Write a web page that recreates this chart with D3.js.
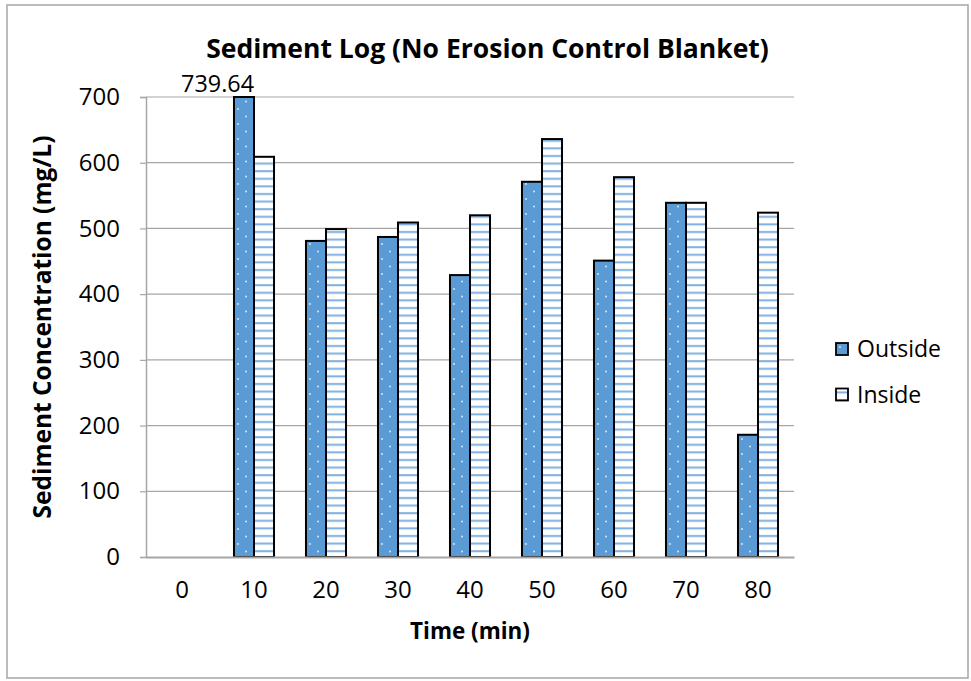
<!DOCTYPE html>
<html>
<head>
<meta charset="utf-8">
<script src="https://cdn.jsdelivr.net/npm/d3@7"></script>
<style>
  html, body { margin: 0; padding: 0; background: #fff; }
  svg text { font-family: "Open Sans", "Noto Sans", sans-serif; fill: #000; }
</style>
</head>
<body>
<svg id="chart" width="971" height="681"></svg>
<script>
// ---- data ----
const categories = ["0", "10", "20", "30", "40", "50", "60", "70", "80"];
const outsideValues = [0, 739.64, 481, 487, 429, 571, 451, 539, 186];
const insideValues = [0, 609, 499, 509, 520, 636, 578, 539, 524];
const seriesNames = ["Outside", "Inside"];
const yTicks = [0, 100, 200, 300, 400, 500, 600, 700];
const titleText = "Sediment Log (No Erosion Control Blanket)";
const xTitleText = "Time (min)";
const yTitleText = "Sediment Concentration (mg/L)";

const svg = d3.select("#chart");
const plot = { left: 146, right: 794, top: 97, bottom: 557 };

// helper: choose font-size so text spans target width
function fit(sel, target) {
  const node = sel.node();
  const fs = parseFloat(sel.style("font-size"));
  const len = node.getComputedTextLength();
  sel.style("font-size", (fs * target / len).toFixed(2) + "px");
}

// patterns
const defs = svg.append("defs");
const pDots = defs.append("pattern").attr("id", "dots")
  .attr("patternUnits", "userSpaceOnUse").attr("width", 16).attr("height", 15);
pDots.append("rect").attr("width", 16).attr("height", 15).attr("fill", "#5B9BD5");
pDots.append("circle").attr("cx", 4).attr("cy", 4).attr("r", 0.9).attr("fill", "#e6f0fa");
pDots.append("circle").attr("cx", 12).attr("cy", 11.5).attr("r", 0.9).attr("fill", "#e6f0fa");

const pLines = defs.append("pattern").attr("id", "hlines")
  .attr("patternUnits", "userSpaceOnUse").attr("width", 8).attr("height", 7.6);
pLines.append("rect").attr("width", 8).attr("height", 7.6).attr("fill", "#ffffff");
pLines.append("rect").attr("y", 3).attr("width", 8).attr("height", 2).attr("fill", "#7fb0e0");

const fills = { Outside: "url(#dots)", Inside: "url(#hlines)" };

// frame
svg.append("rect").attr("x", 7).attr("y", 5).attr("width", 961).attr("height", 673)
  .attr("fill", "#fff").attr("stroke", "#a6a6a6").attr("stroke-width", 1.5);

// scales
const x0 = d3.scaleBand().domain(categories).range([plot.left, plot.right])
  .paddingInner(0.444).paddingOuter(0.222);
const x1 = d3.scaleBand().domain(seriesNames).range([0, x0.bandwidth()]);
const y = d3.scaleLinear().domain([0, 700]).range([plot.bottom, plot.top]).clamp(true);

// gridlines
svg.append("g").selectAll("line").data(yTicks.filter(d => d > 0)).join("line")
  .attr("x1", plot.left).attr("x2", plot.right)
  .attr("y1", d => y(d)).attr("y2", d => y(d))
  .attr("stroke", "#a6a6a6").attr("stroke-width", 1.2);

// y axis
const yAxis = svg.append("g").attr("transform", `translate(${plot.left},0)`)
  .call(d3.axisLeft(y).tickValues(yTicks).tickSize(6).tickPadding(20).tickFormat(d3.format("d")));
yAxis.select(".domain").attr("stroke", "#a6a6a6").attr("stroke-width", 1.5);
yAxis.selectAll(".tick line").attr("stroke", "#a6a6a6").attr("stroke-width", 1.2);
yAxis.selectAll(".tick text").style("font-size", "24px").style("font-family", "'Open Sans', sans-serif").attr("fill", "#000");

// bars
const rows = categories.map((c, i) => ({ cat: c, vals: [
  { key: "Outside", value: outsideValues[i] },
  { key: "Inside", value: insideValues[i] }] }));

const groups = svg.append("g").selectAll("g").data(rows).join("g")
  .attr("transform", d => `translate(${x0(d.cat)},0)`);
groups.selectAll("rect").data(d => d.vals.filter(v => v.value > 0)).join("rect")
  .attr("x", d => x1(d.key)).attr("width", x1.bandwidth())
  .attr("y", d => y(d.value)).attr("height", d => y(0) - y(d.value))
  .attr("fill", d => fills[d.key]).attr("stroke", "#000").attr("stroke-width", 2);

// x axis
const xAxis = svg.append("g").attr("transform", `translate(0,${plot.bottom})`)
  .call(d3.axisBottom(x0).tickSize(0).tickPadding(24));
xAxis.select(".domain").attr("stroke", "#a6a6a6").attr("stroke-width", 2);
xAxis.selectAll(".tick text").style("font-size", "24px").style("font-family", "'Open Sans', sans-serif").attr("fill", "#000");

// data label for clipped bar
const lblIdx = 1;
const lbl = svg.append("text")
  .attr("x", x0(categories[lblIdx]) + x1("Outside") + x1.bandwidth())
  .attr("y", 92).attr("text-anchor", "end").style("font-size", "24px")
  .text(outsideValues[lblIdx].toFixed(2));
fit(lbl, 73);

// title
const title = svg.append("text").attr("x", 487.5).attr("y", 58).attr("text-anchor", "middle")
  .style("font-size", "24px").style("font-weight", "bold").text(titleText);
fit(title, 563);

// axis titles
const xt = svg.append("text").attr("x", 470).attr("y", 639).attr("text-anchor", "middle")
  .style("font-size", "18px").style("font-weight", "bold").text(xTitleText);
fit(xt, 120);
const yt = svg.append("text").attr("transform", "translate(51,327) rotate(-90)").attr("text-anchor", "middle")
  .style("font-size", "18px").style("font-weight", "bold").text(yTitleText);
fit(yt, 383);

// legend
const legend = svg.append("g").selectAll("g").data(seriesNames).join("g")
  .attr("transform", (d, i) => `translate(836,${343 + i * 45.5})`);
legend.append("rect").attr("width", 12).attr("height", 12)
  .attr("fill", d => fills[d]).attr("stroke", "#000").attr("stroke-width", 1.8);
const legText = legend.append("text").attr("x", 21).attr("y", 6).attr("dy", "0.35em")
  .style("font-size", "23px").text(d => d);
fit(d3.select(legText.nodes()[0]), 84);
legText.style("font-size", d3.select(legText.nodes()[0]).style("font-size"));
</script>
</body>
</html>
